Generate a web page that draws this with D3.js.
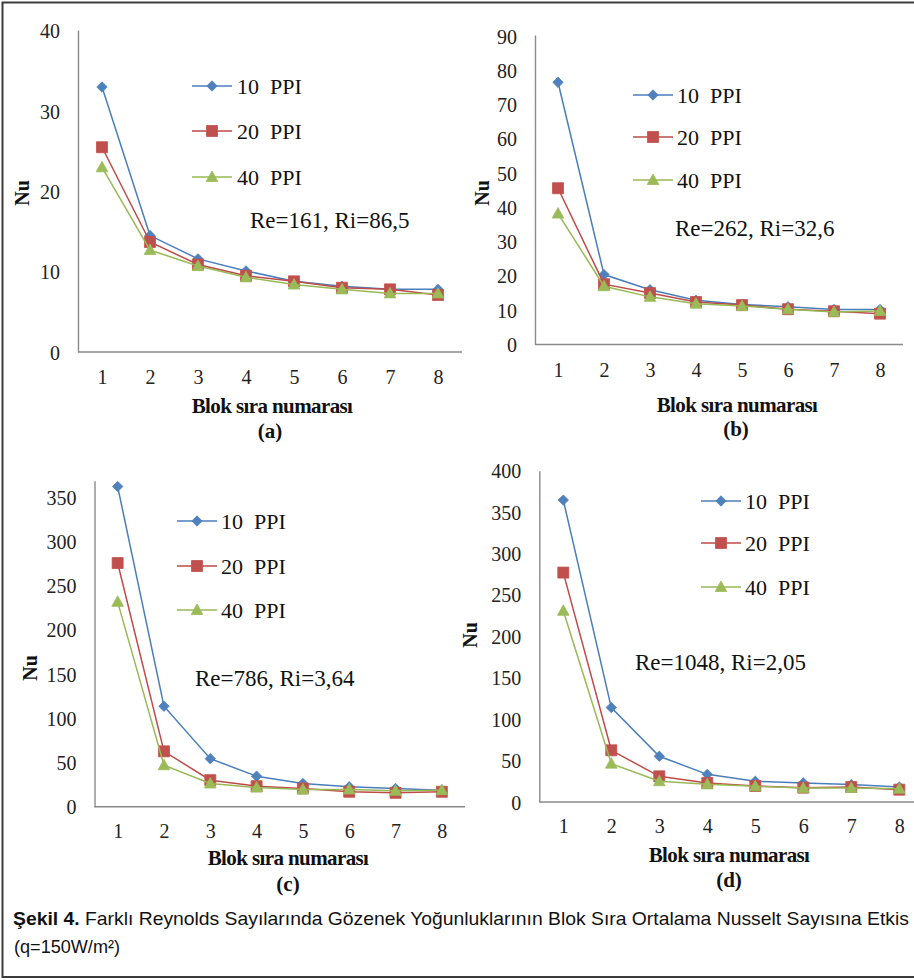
<!DOCTYPE html>
<html>
<head>
<meta charset="utf-8">
<script src="https://cdn.jsdelivr.net/npm/d3@7"></script>
<style>
  body { margin: 0; background: #fff; }
  svg { display: block; }
</style>
</head>
<body>
<svg id="fig" width="914" height="980"></svg>
<script>
// block index on the x axis
const blocks = [1, 2, 3, 4, 5, 6, 7, 8];
const seriesNames = ["10  PPI", "20  PPI", "40  PPI"];
const seriesColors = ["#4a7ebb", "#be4b48", "#98b954"];
const markerColors = ["#4f81bd", "#c0504d", "#9bbb59"];

// Nu values
const nuA10 = [33.0, 14.5, 11.6, 10.1, 8.8, 8.2, 7.8, 7.8];
const nuA20 = [25.5, 13.7, 10.9, 9.5, 8.8, 8.0, 7.8, 7.1];
const nuA40 = [23.0, 12.7, 10.7, 9.3, 8.4, 7.8, 7.3, 7.3];

const nuB10 = [76.5, 20.4, 16.0, 12.9, 11.7, 11.0, 10.2, 10.2];
const nuB20 = [45.6, 17.6, 15.0, 12.4, 11.5, 10.3, 9.7, 9.0];
const nuB40 = [38.2, 17.0, 13.9, 11.9, 11.2, 10.3, 9.5, 9.8];

const nuC10 = [362, 113.6, 54.3, 34.5, 26.2, 22.5, 20.6, 18.7];
const nuC20 = [275.5, 62.6, 30.0, 23.2, 20.6, 16.9, 15.7, 16.9];
const nuC40 = [231.6, 46.9, 26.2, 21.7, 19.5, 19.5, 18.0, 18.7];

const nuD10 = [364.5, 114, 55.2, 33.4, 25, 23, 21, 18.1];
const nuD20 = [277, 62.4, 31, 23, 19.3, 17.3, 18.1, 14.9];
const nuD40 = [230.8, 46.3, 25, 21.3, 18.9, 16.9, 16.9, 16.1];

const ticksA = [0, 10, 20, 30, 40];
const ticksB = [0, 10, 20, 30, 40, 50, 60, 70, 80, 90];
const ticksC = [0, 50, 100, 150, 200, 250, 300, 350];
const ticksD = [0, 50, 100, 150, 200, 250, 300, 350, 400];

const annotations = ["Re=161, Ri=86,5", "Re=262, Ri=32,6", "Re=786, Ri=3,64", "Re=1048, Ri=2,05"];
const panelLabels = ["(a)", "(b)", "(c)", "(d)"];
const xTitle = "Blok sıra numarası";
const yTitle = "Nu";

// layout of each panel (pixels)
const panels = [
    { series: [nuA10, nuA20, nuA40], ticks: ticksA, yMax: 40.1, x0: 78, x1: 462, yBot: 352, yTop: 30,
      leg: { lx0: 192, lx1: 232, tx: 237, ys: [86, 131, 177] }, ann: [250, 220],
      tickY: 377, title: [272, 406], label: [270, 431], nu: [22, 193] },
    { series: [nuB10, nuB20, nuB40], ticks: ticksB, yMax: 90.3, x0: 535, x1: 903, yBot: 344.5, yTop: 35,
      leg: { lx0: 633, lx1: 673, tx: 677, ys: [95, 137, 180] }, ann: [675, 228],
      tickY: 370, title: [737, 405], label: [736, 429], nu: [482, 193] },
    { series: [nuC10, nuC20, nuC40], ticks: ticksC, yMax: 368.6, x0: 94.5, x1: 465, yBot: 806.7, yTop: 480.7,
      leg: { lx0: 177, lx1: 217, tx: 221, ys: [521, 566, 610] }, ann: [195, 678],
      tickY: 831, title: [288, 858], label: [288, 884], nu: [30, 668] },
    { series: [nuD10, nuD20, nuD40], ticks: ticksD, yMax: 400, x0: 539.3, x1: 923.3, yBot: 802, yTop: 470.7,
      leg: { lx0: 701, lx1: 741, tx: 745, ys: [501, 543, 587] }, ann: [635, 662],
      tickY: 826, title: [729, 855], label: [729, 880], nu: [470, 635] }
];

const svg = d3.select("#fig");
const serif = "'Liberation Serif', 'Times New Roman', serif";
const axisColor = "#8a8a8a";

svg.append("rect").attr("width", 914).attr("height", 980).attr("fill", "#fff");

function markerPath(k, cx, cy) {
    if (k == 0) {
        const r = 5.2;
        return `M${cx},${cy - r}L${cx + r},${cy}L${cx},${cy + r}L${cx - r},${cy}Z`;
    }
    if (k == 1) {
        const h = 5.5;
        return `M${cx - h},${cy - h}H${cx + h}V${cy + h}H${cx - h}Z`;
    }
    return `M${cx},${cy - 6}L${cx + 5.8},${cy + 4.5}H${cx - 5.8}Z`;
}

panels.forEach((p, pi) => {
    const g = svg.append("g");

    const x = d3.scalePoint().domain(blocks).range([p.x0, p.x1]).padding(0.5);
    const y = d3.scaleLinear().domain([0, p.yMax]).range([p.yBot, p.yTop]);

    // y axis
    const yAxis = g.append("g")
        .attr("transform", `translate(${p.x0},0)`)
        .call(d3.axisLeft(y).tickValues(p.ticks).tickSize(0).tickPadding(18).tickSizeOuter(0));
    yAxis.select(".domain").attr("stroke", axisColor).attr("stroke-width", 1.4);
    yAxis.selectAll("text")
        .attr("font-family", serif).attr("font-size", 20).attr("fill", "#222")
        .attr("dy", "0.35em");

    // x axis
    const xAxis = g.append("g")
        .attr("transform", `translate(0,${p.yBot})`)
        .call(d3.axisBottom(x).tickSize(0).tickSizeOuter(0));
    xAxis.select(".domain")
        .attr("d", `M${p.x0},0H${p.x1}`)
        .attr("stroke", axisColor).attr("stroke-width", 1.4);
    xAxis.selectAll("text")
        .attr("font-family", serif).attr("font-size", 20).attr("fill", "#222")
        .attr("y", p.tickY - p.yBot).attr("dy", "0.35em");

    // series
    const line = d3.line().x((d, i) => x(blocks[i])).y(d => y(d));
    p.series.forEach((vals, k) => {
        g.append("path")
            .attr("d", line(vals))
            .attr("fill", "none")
            .attr("stroke", seriesColors[k])
            .attr("stroke-width", 1.5);
        g.selectAll(null)
            .data(vals)
            .enter()
            .append("path")
            .attr("d", (d, i) => markerPath(k, x(blocks[i]), y(d)))
            .attr("fill", markerColors[k])
            .attr("stroke", markerColors[k])
            .attr("stroke-width", 0.8);
    });

    // legend
    seriesNames.forEach((name, k) => {
        const ly = p.leg.ys[k];
        g.append("line")
            .attr("x1", p.leg.lx0).attr("x2", p.leg.lx1)
            .attr("y1", ly).attr("y2", ly)
            .attr("stroke", seriesColors[k]).attr("stroke-width", 1.5);
        g.append("path")
            .attr("d", markerPath(k, (p.leg.lx0 + p.leg.lx1) / 2, ly))
            .attr("fill", markerColors[k]).attr("stroke", markerColors[k]).attr("stroke-width", 0.8);
        g.append("text")
            .attr("x", p.leg.tx).attr("y", ly).attr("dy", "0.35em")
            .attr("font-family", serif).attr("font-size", 22).attr("fill", "#111")
            .style("white-space", "pre")
            .text(name);
    });

    // Re / Ri note
    g.append("text")
        .attr("x", p.ann[0]).attr("y", p.ann[1]).attr("dy", "0.35em")
        .attr("font-family", serif).attr("font-size", 23).attr("fill", "#111")
        .text(annotations[pi]);

    // axis titles
    g.append("text")
        .attr("x", p.title[0]).attr("y", p.title[1]).attr("dy", "0.35em")
        .attr("text-anchor", "middle")
        .attr("font-family", serif).attr("font-size", 21).attr("font-weight", "bold")
        .attr("letter-spacing", -0.6).attr("fill", "#111")
        .text(xTitle);
    g.append("text")
        .attr("x", p.label[0]).attr("y", p.label[1]).attr("dy", "0.35em")
        .attr("text-anchor", "middle")
        .attr("font-family", serif).attr("font-size", 21).attr("font-weight", "bold")
        .attr("fill", "#111")
        .text(panelLabels[pi]);
    g.append("text")
        .attr("transform", `translate(${p.nu[0]},${p.nu[1]}) rotate(-90)`)
        .attr("dy", "0.35em")
        .attr("text-anchor", "middle")
        .attr("font-family", serif).attr("font-size", 20).attr("font-weight", "bold")
        .attr("fill", "#111")
        .text(yTitle);
});

// caption
const sans = "'Liberation Sans Narrow', 'Liberation Sans', Arial, sans-serif";
const cap1 = svg.append("text")
    .attr("x", 13).attr("y", 924.5)
    .attr("font-family", sans).attr("font-size", 18.5).attr("fill", "#111")
    .attr("textLength", 896).attr("lengthAdjust", "spacingAndGlyphs");
cap1.append("tspan").attr("font-weight", "bold").text("Şekil 4.");
cap1.append("tspan").text(" Farklı Reynolds Sayılarında Gözenek Yoğunluklarının Blok Sıra Ortalama Nusselt Sayısına Etkis");

svg.append("text")
    .attr("x", 14).attr("y", 953)
    .attr("font-family", sans).attr("font-size", 18.5).attr("fill", "#111")
    .attr("textLength", 106).attr("lengthAdjust", "spacingAndGlyphs")
    .text("(q=150W/m²)");

// frame
svg.append("path")
    .attr("d", "M916,2.5H2.5V977H916")
    .attr("fill", "none")
    .attr("stroke", "#3c3c3c")
    .attr("stroke-width", 2);
</script>
</body>
</html>
